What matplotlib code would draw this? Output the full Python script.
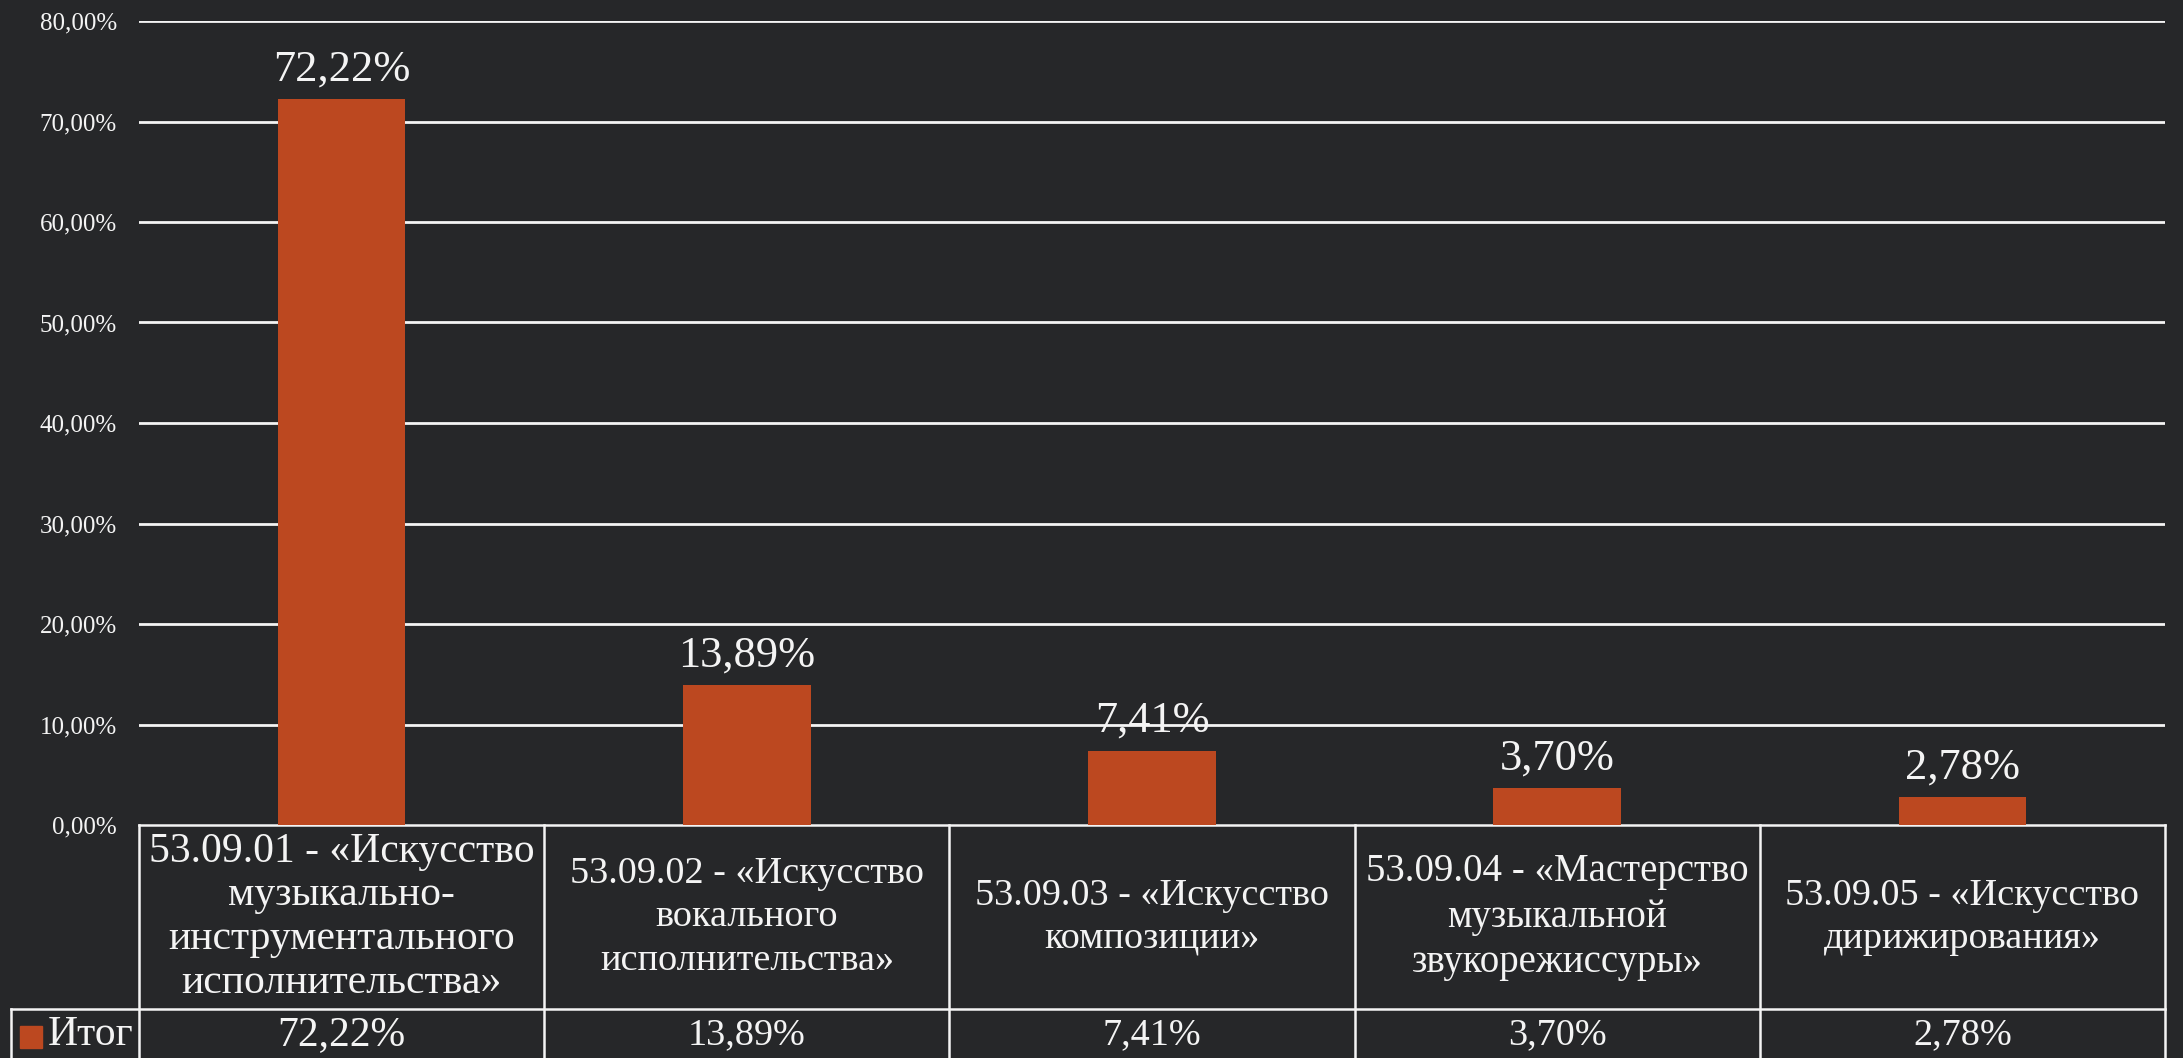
import matplotlib
matplotlib.use("Agg")
import matplotlib.pyplot as plt
from matplotlib.transforms import blended_transform_factory
from matplotlib.patches import Rectangle

categories = [
    "53.09.01 - «Искусство\nмузыкально-\nинструментального\nисполнительства»",
    "53.09.02 - «Искусство\nвокального\nисполнительства»",
    "53.09.03 - «Искусство\nкомпозиции»",
    "53.09.04 - «Мастерство\nмузыкальной\nзвукорежиссуры»",
    "53.09.05 - «Искусство\nдирижирования»",
]
values = [72.22, 13.89, 7.41, 3.70, 2.78]
series_name = "Итог"
yticks = [0, 10, 20, 30, 40, 50, 60, 70, 80]

BG = "#262729"
BAR = "#BC4820"
FG = "#F4F4F4"
FONT = ["Liberation Serif", "DejaVu Serif"]

plt.rcParams["font.family"] = FONT

W, H = 2183, 1058
fig = plt.figure(figsize=(W / 100, H / 100), dpi=100)
fig.patch.set_facecolor(BG)

left_px, right_px = 139, 2165
top_px, zero_px = 21, 825
ax = fig.add_axes([left_px / W, (H - zero_px) / H,
                   (right_px - left_px) / W, (zero_px - top_px) / H])
ax.set_facecolor("none")

x = list(range(len(values)))
ax.bar(x, values, width=0.315, color=BAR, zorder=3)
ax.set_xlim(-0.5, len(values) - 0.5)
ax.set_ylim(0, 80)
ax.set_yticks(yticks)
ax.set_yticklabels([f"{v:.2f}".replace(".", ",") + "%" for v in yticks],
                   color=FG, fontsize=18)
ax.tick_params(axis="y", length=0, pad=16)
ax.set_xticks([])
for s in ax.spines.values():
    s.set_visible(False)
for t in yticks[1:]:
    ax.axhline(t, color=FG, lw=2, zorder=1)

for xi, v in zip(x, values):
    ax.annotate(f"{v:.2f}".replace(".", ",") + "%", (xi, v),
                xytext=(0, 7), textcoords="offset points",
                ha="center", va="bottom", color=FG, fontsize=32)

# data table below axes
tr = blended_transform_factory(ax.transData, fig.transFigure)
def fy(py):
    return (H - py) / H

row1_top, row_sep, row_bot = 825, 1009, 1058
lw = 1.8
n = len(values)
ax.plot([-0.5, n - 0.5], [fy(row1_top)] * 2, color=FG, lw=lw, transform=tr, clip_on=False)
fig.add_artist(plt.Line2D([11 / W, right_px / W], [fy(row_sep)] * 2, color=FG, lw=lw))
for k in range(n + 1):
    ax.plot([k - 0.5, k - 0.5], [fy(row1_top), fy(row_bot)], color=FG, lw=lw,
            transform=tr, clip_on=False)
fig.add_artist(plt.Line2D([11 / W, 11 / W], [fy(row_sep), fy(row_bot)], color=FG, lw=lw))

head_sizes = [30, 27.5, 27.5, 28, 27.5]
val_sizes = [30, 27.5, 27.5, 27.5, 27.5]
for k, (cat, v) in enumerate(zip(categories, values)):
    fs = head_sizes[k]
    ls = 44.5 / (fs * 100 / 72) / 0.935 * (1.03 if k == 0 else 1.07)
    ax.text(k, fy((row1_top + row_sep) / 2), cat, transform=tr, ha="center",
            va="center", ma="center", color=FG, fontsize=fs, linespacing=ls)
    ax.text(k, fy(1035), f"{v:.2f}".replace(".", ",") + "%", transform=tr,
            ha="center", va="center", color=FG, fontsize=val_sizes[k])

# legend cell
fig.add_artist(Rectangle((20 / W, fy(1048)), 22 / W, 22 / H, color=BAR,
                         transform=fig.transFigure))
fig.text(48 / W, fy(1035), series_name, ha="left", va="center", color=FG, fontsize=30)

fig.savefig("out.png", dpi=100, facecolor=BG)
